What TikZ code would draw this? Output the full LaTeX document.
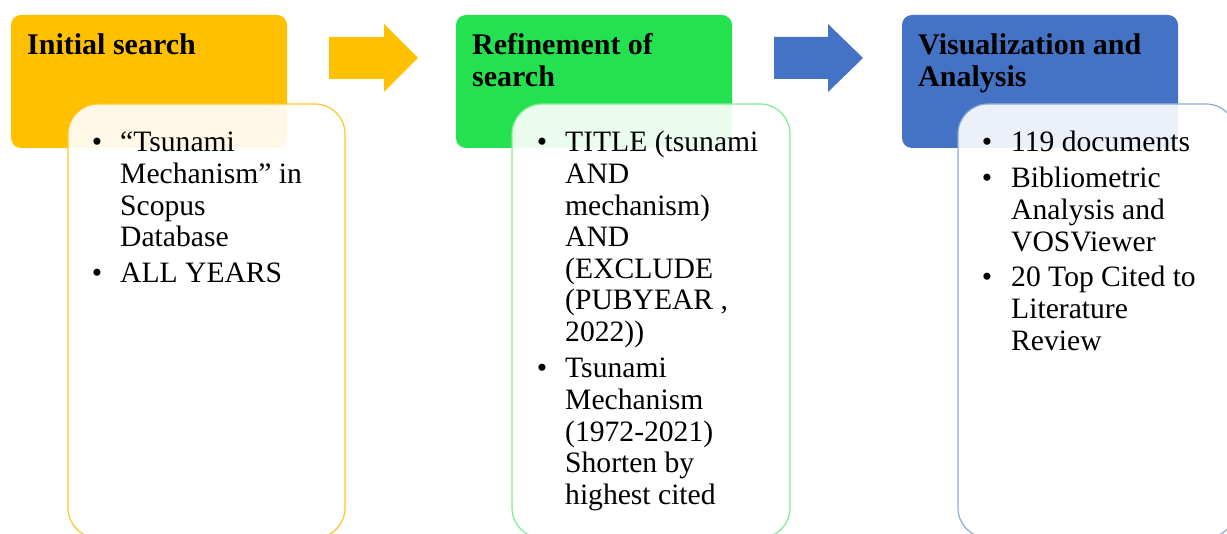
\documentclass[tikz,border=0pt]{standalone}
\usepackage{fontspec}
\setmainfont{Liberation Serif}
\definecolor{cOrange}{HTML}{FFC000}
\definecolor{cGreen}{HTML}{24E24F}
\definecolor{cBlue}{HTML}{4472C4}
\definecolor{bOrange}{HTML}{FFC629}
\definecolor{bGreen}{HTML}{7FEC92}
\definecolor{bBlue}{HTML}{8EA9DB}
\begin{document}
\begin{tikzpicture}[x=1pt,y=-1pt,
  header/.style={rounded corners=10pt},
  listbox/.style={rounded corners=30pt, fill=white, fill opacity=0.9, line width=1.2pt},
  headtext/.style={anchor=base west, inner sep=0pt, align=left, font=\fontsize{30}{32}\selectfont\bfseries},
  itemtext/.style={anchor=base west, inner sep=0pt, align=left, font=\fontsize{29.6}{31.6}\selectfont},
  bul/.style={anchor=base, inner sep=0pt, font=\fontsize{29.6}{31.6}\selectfont}]
\useasboundingbox (0,0) rectangle (1227,534);
\clip (0,0) rectangle (1227,534);
% column 1
\fill[cOrange, header] (11,15) rectangle (287,148);
\draw[bOrange, listbox] (68,104) rectangle (345,538);
\node[headtext] (h1) at (27,55) {Initial search};
\node[bul] (b11) at (97,152) {•};
\node[itemtext] (t11) at (120,246.8) {“Tsunami\\Mechanism” in\\Scopus\\Database};
\node[bul] (b12) at (97,283) {•};
\node[itemtext] (t12) at (120,283) {ALL YEARS};
% arrow 1
\fill[cOrange] (329,37) -- (384,37) -- (384,24) -- (418,58) -- (384,92) -- (384,79) -- (329,79) -- cycle;
% column 2
\fill[cGreen, header] (456,15) rectangle (732,148);
\draw[bGreen, listbox] (512,104) rectangle (790,538);
\node[headtext] (h2) at (472,87) {Refinement of\\search};
\node[bul] (b21) at (542,152) {•};
\node[itemtext] (t21) at (565,341.6) {TITLE (tsunami\\AND\\mechanism)\\AND\\(EXCLUDE\\(PUBYEAR ,\\2022))};
\node[bul] (b22) at (542,378) {•};
\node[itemtext] (t22) at (565,504.4) {Tsunami\\Mechanism\\(1972-2021)\\Shorten by\\highest cited};
% arrow 2
\fill[cBlue] (774,37) -- (828,37) -- (828,24) -- (863,58) -- (828,92) -- (828,79) -- (774,79) -- cycle;
% column 3
\fill[cBlue, header] (902,15) rectangle (1178,148);
\draw[bBlue, listbox] (958,104) rectangle (1236,538);
\node[headtext] (h3) at (918,87) {Visualization and\\Analysis};
\node[bul] (b31) at (987,152) {•};
\node[itemtext] (t31) at (1011,152) {119 documents};
\node[bul] (b32) at (987,188) {•};
\node[itemtext] (t32) at (1011,251.2) {Bibliometric\\Analysis and\\VOSViewer};
\node[bul] (b33) at (987,287) {•};
\node[itemtext] (t33) at (1011,350.2) {20 Top Cited to\\Literature\\Review};
\end{tikzpicture}
\end{document}
